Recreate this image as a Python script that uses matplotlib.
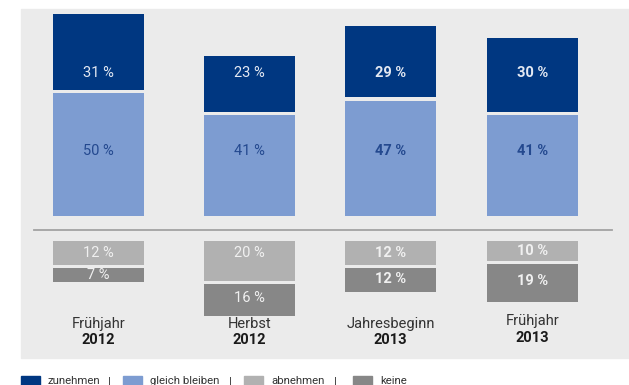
import matplotlib
matplotlib.use("Agg")
import matplotlib.pyplot as plt
from matplotlib.patches import Rectangle

# data
periods = ["Frühjahr", "Herbst", "Jahresbeginn", "Frühjahr"]
years = ["2012", "2012", "2013", "2013"]
zunehmen = [31, 23, 29, 30]
gleich = [50, 41, 47, 41]
abnehmen = [12, 20, 12, 10]
keine = [7, 16, 12, 19]
series_names = ["zunehmen", "gleich bleiben", "abnehmen", "keine"]

c_dark = "#003781"
c_light = "#7d9cd1"
c_grey1 = "#b1b1b1"
c_grey2 = "#878787"
colors = [c_dark, c_light, c_grey1, c_grey2]

W, H = 629, 385
FONT = ["Roboto", "DejaVu Sans"]
plt.rcParams["font.family"] = FONT


def px(x, y, w, h):
    return [x / W, 1 - (y + h) / H, w / W, h / H]


fig = plt.figure(figsize=(W / 100, H / 100), dpi=100)
fig.add_artist(Rectangle((21 / W, 1 - 358 / H), 608 / W, 349 / H,
                         transform=fig.transFigure, color="#ebebeb", zorder=0))

# layout (pixels)
xpos = [98.5, 249.5, 390.5, 532.5]
bw = 91
base = 230
up_scale = 2.45    # px per %
lo_scale = 2.0
up_off, up_gap = 5.8, 1.4
lo_off, lo_gap = 5.4, 1.8
bold = [False, False, True, True]
vfs = 10.5

ax_up = fig.add_axes(px(0, 0, W, base))
ax_up.set_xlim(0, W)
ax_up.set_ylim(0, base / up_scale)
ax_up.set_axis_off()

ax_lo = fig.add_axes(px(0, base, W, H - base))
ax_lo.set_xlim(0, W)
ax_lo.set_ylim((H - base) / lo_scale, 0)
ax_lo.set_axis_off()

dark_bottom = [up_off + g + up_gap for g in gleich]
ax_up.bar(xpos, gleich, bw, bottom=up_off, color=c_light, zorder=2)
ax_up.bar(xpos, zunehmen, bw, bottom=dark_bottom, color=c_dark, zorder=2)

keine_bottom = [lo_off + a + lo_gap for a in abnehmen]
ax_lo.bar(xpos, abnehmen, bw, bottom=lo_off, color=c_grey1, zorder=2)
ax_lo.bar(xpos, keine, bw, bottom=keine_bottom, color=c_grey2, zorder=2)

ax_up.axhline(0, xmin=34 / W, xmax=612 / W, color="#a2a2a2", lw=1.3, clip_on=False)

# value labels
row_dark = (base - 73) / up_scale
row_light = (base - 151) / up_scale
for i, x in enumerate(xpos):
    fw = "bold" if bold[i] else "normal"
    ax_up.text(x, row_dark, f"{zunehmen[i]} %", ha="center", va="center",
               color="#e3e8f2", fontsize=vfs, fontweight=fw, zorder=3)
    ax_up.text(x, row_light, f"{gleich[i]} %", ha="center", va="center",
               color="#24498f", fontsize=vfs, fontweight=fw, zorder=3)
    ya = min(lo_off + abnehmen[i] / 2, (253 - base) / lo_scale)
    ax_lo.text(x, ya, f"{abnehmen[i]} %", ha="center", va="center",
               color="#f0f0f0", fontsize=vfs, fontweight=fw, zorder=3)
    yk = keine_bottom[i] + keine[i] / 2 - min(2.5, keine[i] / 8) / lo_scale
    ax_lo.text(x, yk, f"{keine[i]} %", ha="center", va="center",
               color="#f0f0f0", fontsize=vfs, fontweight=fw, zorder=3)

# category labels
lab_dy = [0, 0, 0, -2.5]
for i, x in enumerate(xpos):
    ax_lo.text(x, (324 + lab_dy[i] - base) / lo_scale, periods[i], ha="center",
               va="center", color="#333333", fontsize=10.5, clip_on=False)
    ax_lo.text(x, (340 + lab_dy[i] - base) / lo_scale, years[i], ha="center",
               va="center", color="#1a1a1a", fontsize=10.5, fontweight="bold",
               clip_on=False)

# legend
sq_x = [21, 123, 244, 353]
sep_x = [109, 230, 335]
for i, name in enumerate(series_names):
    fig.add_artist(Rectangle((sq_x[i] / W, 1 - 388 / H), 19 / W, 12 / H,
                             transform=fig.transFigure, color=colors[i]))
    fig.text((sq_x[i] + 27) / W, 1 - 381 / H, name, ha="left", va="center",
             fontsize=8.2, color="#333333")
for s in sep_x:
    fig.text(s / W, 1 - 381 / H, "|", ha="center", va="center",
             fontsize=8.2, color="#333333")

fig.savefig("out.png", dpi=100)
